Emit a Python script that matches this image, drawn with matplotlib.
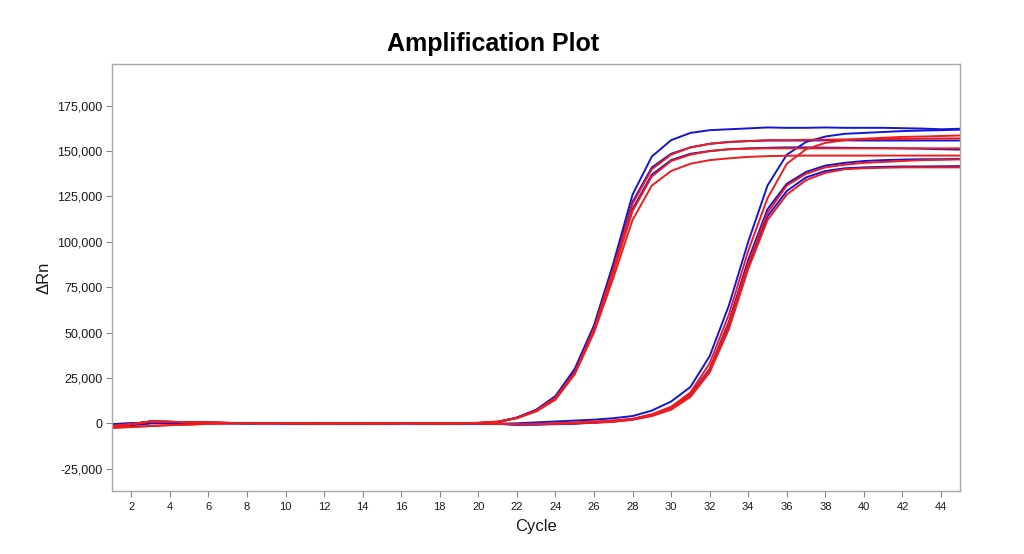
import matplotlib
matplotlib.use("Agg")
import matplotlib.pyplot as plt
import numpy as np

cycles = list(range(1, 46))

# Baseline pieces (thousands of ΔRn), cycles 1..21
base_a = [-1.5, -0.5, 1.0, 0.8, 0.6, 0.4, 0.2, 0.1, 0.0, 0.1, 0.0, -0.1, 0.0, 0.0, -0.1, 0.1, 0.0, -0.1, 0.0, 0.2, 0.8]
base_b = [-2.5, -2.0, -1.5, -1.0, -0.7, -0.3, 0.0, 0.1, 0.1, 0.0, 0.0, 0.0, -0.1, -0.1, 0.0, 0.1, 0.0, 0.0, 0.0, 0.3, 1.0]
base_c = [-0.5, 0.0, 0.5, 0.4, 0.3, 0.2, 0.1, 0.0, 0.1, 0.0, 0.0, -0.1, 0.0, 0.0, -0.1, 0.0, 0.1, 0.0, 0.0, 0.1, 0.5]
late_base_a = [-1.5, -0.5, 1.0, 0.8, 0.6, 0.4, 0.2, 0.1, 0.0, 0.1, 0.0, -0.1, 0.0, 0.0, -0.1, 0.1, 0.0, -0.1, 0.0, 0.0, -0.2]
late_base_b = [-2.0, -1.0, 0.0, 0.2, 0.2, 0.1, 0.0, 0.0, 0.1, 0.0, 0.0, 0.0, -0.1, -0.1, 0.0, 0.1, 0.0, 0.0, 0.0, -0.1, -0.3]
late_base_c = [-2.5, -2.0, -1.5, -1.0, -0.7, -0.3, 0.0, 0.1, 0.1, 0.0, 0.0, 0.0, -0.1, -0.1, 0.0, 0.1, 0.0, 0.0, 0.0, -0.1, -0.2]

# Early group (cycles 22..45)
e1_blue = [3.2, 7.5, 15.0, 30.0, 54.0, 88.0, 126.0, 147.0, 156.0, 160.0, 161.5, 162.0, 162.5, 163.0, 162.8, 162.8, 163.0, 162.8, 162.8, 162.8, 162.6, 162.4, 162.0, 162.3]
e2_red = [3.0, 7.0, 14.0, 28.0, 52.0, 85.0, 121.0, 140.0, 148.0, 152.0, 154.0, 155.0, 155.5, 156.0, 156.0, 156.2, 156.3, 156.4, 156.5, 156.6, 156.7, 156.8, 156.9, 157.0]
e3_blue = [3.1, 7.2, 14.5, 28.5, 53.0, 86.0, 122.0, 141.0, 148.5, 152.0, 154.0, 155.0, 155.5, 155.8, 155.8, 155.8, 155.9, 155.9, 155.8, 155.8, 155.8, 155.8, 155.8, 155.8]
e4_blue = [3.0, 7.0, 14.0, 28.0, 52.0, 84.0, 118.0, 137.0, 145.0, 148.5, 150.0, 151.0, 151.5, 151.8, 152.0, 152.0, 151.9, 151.8, 151.7, 151.6, 151.5, 151.3, 151.0, 150.8]
e5_red = [2.9, 6.8, 13.5, 27.5, 51.0, 83.0, 117.0, 136.0, 144.5, 148.0, 150.0, 151.0, 151.3, 151.5, 151.5, 151.5, 151.5, 151.5, 151.5, 151.5, 151.5, 151.5, 151.5, 151.5]
e6_red = [2.8, 6.5, 13.0, 27.0, 50.0, 80.0, 112.0, 131.0, 139.0, 143.0, 145.0, 146.0, 146.8, 147.2, 147.4, 147.5, 147.5, 147.5, 147.5, 147.5, 147.5, 147.5, 147.5, 147.5]

# Late group (cycles 22..45)
l1_blue = [0.0, 0.5, 1.0, 1.5, 2.0, 2.8, 4.0, 7.0, 12.0, 20.0, 37.0, 65.0, 100.0, 131.0, 148.0, 155.0, 158.0, 159.5, 160.0, 160.5, 161.0, 161.3, 161.5, 161.8]
l2_red = [-0.5, -0.3, 0.0, 0.5, 1.0, 1.6, 2.5, 5.0, 9.0, 17.0, 33.0, 60.0, 95.0, 124.0, 143.0, 151.0, 154.5, 156.0, 156.8, 157.3, 157.8, 158.0, 158.3, 158.6]
l3_blue = [-0.8, -0.6, -0.3, 0.0, 0.5, 1.2, 2.3, 4.5, 9.0, 16.0, 30.0, 56.0, 90.0, 118.0, 132.0, 138.5, 142.0, 143.5, 144.5, 145.0, 145.3, 145.5, 145.5, 145.7]
l4_red = [-0.5, -0.5, -0.3, 0.0, 0.5, 1.0, 2.3, 4.5, 8.5, 15.5, 29.5, 55.0, 88.0, 116.0, 131.0, 137.5, 141.0, 142.5, 143.5, 144.0, 144.5, 145.0, 145.2, 145.4]
l5_blue = [-0.8, -0.7, -0.5, -0.2, 0.3, 1.0, 2.0, 4.2, 8.0, 15.0, 29.0, 54.0, 87.0, 114.0, 128.0, 135.5, 139.0, 140.5, 141.0, 141.3, 141.5, 141.5, 141.6, 141.7]
l6_red = [-0.5, -0.5, -0.3, 0.0, 0.3, 0.8, 2.0, 4.0, 7.5, 14.5, 28.0, 52.0, 85.0, 112.0, 126.0, 134.0, 138.0, 140.0, 140.5, 140.8, 141.0, 141.0, 141.0, 141.0]

BLUE = "#1515d6"
RED = "#ee1c1c"

series = [
    (base_c + e1_blue, BLUE),
    (base_a + e3_blue, BLUE),
    (base_c + e4_blue, BLUE),
    (late_base_b + l1_blue, BLUE),
    (late_base_a + l3_blue, BLUE),
    (late_base_b + l5_blue, BLUE),
    (base_a + e2_red, RED),
    (base_a + e5_red, RED),
    (base_b + e6_red, RED),
    (late_base_a + l2_red, RED),
    (late_base_a + l4_red, RED),
    (late_base_c + l6_red, RED),
]

fig = plt.figure(figsize=(10.24, 5.54), dpi=100)
ax = fig.add_axes([112 / 1024, 1 - 491 / 554, (960.3 - 112) / 1024, (491 - 64.3) / 554])

for vals, col in series:
    ax.plot(cycles, np.array(vals) * 1000, color=col, lw=1.4, solid_joinstyle="round")

ax.set_xlim(1, 45)
ax.set_ylim(-37300, 197800)
ax.set_xticks(list(range(2, 46, 2)))
ax.set_yticks([-25000, 0, 25000, 50000, 75000, 100000, 125000, 150000, 175000])
ax.yaxis.set_major_formatter(matplotlib.ticker.FuncFormatter(lambda v, p: f"{int(v):,}"))

for s in ax.spines.values():
    s.set_color("#a8a8a8")
    s.set_linewidth(1.0)
ax.tick_params(axis="both", colors="#888888", length=4, width=0.8, labelcolor="#1a1a1a")
ax.tick_params(axis="y", labelsize=9, pad=3)
ax.tick_params(axis="x", labelsize=8, pad=4)
for lab in ax.get_xticklabels() + ax.get_yticklabels():
    lab.set_family("Liberation Sans")

ax.set_xlabel("Cycle", family="Liberation Sans", fontsize=12, color="#1a1a1a", labelpad=5)
ax.set_ylabel("ΔRn", family="Liberation Sans", fontsize=12, color="#1a1a1a", labelpad=4)

fig.text(493 / 1024, 1 - 44 / 554, "Amplification Plot", ha="center", va="center",
         fontsize=18, fontweight="bold", family="Liberation Sans", color="black")

fig.savefig("out.png", dpi=100, facecolor="white")
